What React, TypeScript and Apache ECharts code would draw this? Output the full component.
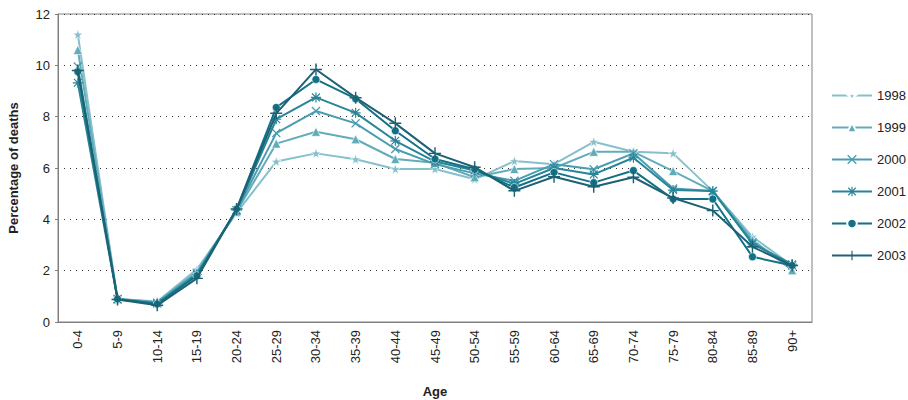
import React, { useEffect, useRef } from "react";
import * as echarts from "echarts";

const categories = ["0-4","5-9","10-14","15-19","20-24","25-29","30-34","35-39","40-44","45-49","50-54","55-59","60-64","65-69","70-74","75-79","80-84","85-89","90+"];

const years = ["1998", "1999", "2000", "2001", "2002", "2003"];

const v1998 = [11.2, 0.9, 0.8, 2.05, 4.25, 6.25, 6.57, 6.34, 5.96, 5.96, 5.56, 6.27, 6.15, 7.02, 6.63, 6.57, 5.1, 3.32, 2.2];
const v1999 = [10.6, 0.9, 0.78, 1.95, 4.3, 6.95, 7.41, 7.12, 6.35, 6.2, 5.64, 5.96, 6.0, 6.63, 6.63, 5.88, 5.1, 3.2, 2.02];
const v2000 = [9.95, 0.9, 0.75, 1.9, 4.35, 7.36, 8.22, 7.74, 6.74, 6.15, 5.79, 5.5, 6.15, 5.95, 6.57, 5.2, 5.1, 3.1, 2.2];
const v2001 = [9.32, 0.88, 0.72, 1.85, 4.35, 7.9, 8.75, 8.15, 7.06, 6.25, 5.9, 5.38, 6.0, 5.75, 6.4, 5.14, 5.1, 3.04, 2.25];
const v2002 = [9.75, 0.9, 0.7, 1.8, 4.4, 8.36, 9.45, 8.7, 7.45, 6.35, 5.95, 5.24, 5.83, 5.43, 5.9, 4.79, 4.79, 2.54, 2.2];
const v2003 = [9.8, 0.88, 0.65, 1.7, 4.4, 8.13, 9.84, 8.74, 7.74, 6.57, 6.03, 5.11, 5.66, 5.27, 5.64, 4.83, 4.34, 2.93, 2.2];

const seriesValues = [v1998, v1999, v2000, v2001, v2002, v2003];

const yTicks = [0, 2, 4, 6, 8, 10, 12];

const colors = ["#86c0cb", "#62acba", "#4a9caf", "#278597", "#127186", "#1c6274"];

const STAR = "path://M5,0 L6.18,3.38 L9.76,3.45 L6.9,5.62 L7.94,9.05 L5,7 L2.06,9.05 L3.1,5.62 L0.24,3.45 L3.82,3.38 Z";
const XMARK = "path://M0,1 L1,0 L5,4 L9,0 L10,1 L6,5 L10,9 L9,10 L5,6 L1,10 L0,9 L4,5 Z";
const ASTER = "path://M4.4,0 H5.6 V10 H4.4 Z M0,4.4 H10 V5.6 H0 Z M0.7,1.5 L1.5,0.7 L9.3,8.5 L8.5,9.3 Z M8.5,0.7 L9.3,1.5 L1.5,9.3 L0.7,8.5 Z";
const PLUS = "path://M4.4,0 H5.6 V4.4 H10 V5.6 H5.6 V10 H4.4 V5.6 H0 V4.4 H4.4 Z";

const symbols = [STAR, "triangle", XMARK, ASTER, "circle", PLUS];
const symbolSizes = [10, 9, 9, 10, 8, 12];

export default function App() {
  const ref = useRef<HTMLDivElement>(null);
  useEffect(() => {
    document.body.style.margin = "0";
    if (!ref.current) return;
    const chart = echarts.init(ref.current, null, { renderer: "svg" });
    const font = "Liberation Sans, Arial, sans-serif";
    chart.setOption({
      animation: false,
      textStyle: { fontFamily: font },
      grid: {
        left: 58,
        right: 96,
        top: 14,
        bottom: 78,
        show: true,
        borderColor: "#808080",
        borderWidth: 1,
        containLabel: false,
        outerBoundsMode: "none",
      },
      legend: {
        orient: "vertical",
        left: 826,
        top: 84,
        itemWidth: 40,
        itemHeight: 12,
        itemGap: 19,
        data: years,
        textStyle: { fontFamily: font, fontSize: 13, color: "#222" },
      },
      xAxis: {
        type: "category",
        data: categories,
        boundaryGap: true,
        name: "Age",
        nameLocation: "middle",
        nameGap: 63,
        nameTextStyle: { fontFamily: font, fontSize: 13, fontWeight: "bold", color: "#222" },
        axisLine: { lineStyle: { color: "#808080" } },
        axisTick: { show: false },
        axisLabel: { rotate: 90, fontSize: 13, color: "#222", margin: 8, fontFamily: font, interval: 0 },
        splitLine: { show: false },
      },
      yAxis: {
        type: "value",
        min: yTicks[0],
        max: yTicks[yTicks.length - 1],
        interval: 2,
        name: "Percentage of deaths",
        nameLocation: "middle",
        nameGap: 38,
        nameTextStyle: { fontFamily: font, fontSize: 13, fontWeight: "bold", color: "#222" },
        axisLine: { show: true, lineStyle: { color: "#808080" } },
        axisTick: { show: true, length: 3, lineStyle: { color: "#808080" } },
        axisLabel: { fontSize: 13, color: "#222", margin: 8, fontFamily: font },
        splitLine: { show: true, lineStyle: { type: [1, 5], color: "#333", width: 1.2 } },
      },
      series: years.map((y, i) => ({
        name: y,
        type: "line",
        data: seriesValues[i],
        symbol: symbols[i],
        symbolSize: symbolSizes[i],
        showAllSymbol: true,
        color: colors[i],
        lineStyle: { width: 2, color: colors[i] },
        itemStyle: { color: colors[i], borderColor: "#ffffff", borderWidth: i === 2 || i === 3 || i === 5 ? 0 : 0.6 },
        z: 2 + i,
      })),
    });
    return () => chart.dispose();
  }, []);
  return <div ref={ref} style={{ width: 908, height: 400 }} />;
}
